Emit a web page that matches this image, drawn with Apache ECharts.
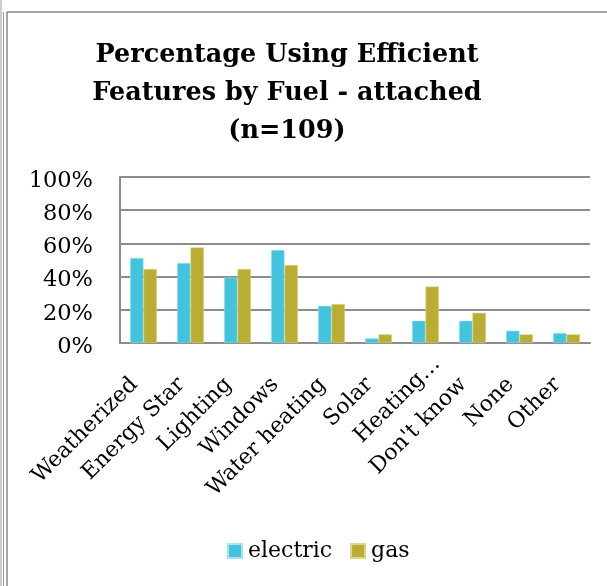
<!DOCTYPE html>
<html>
<head>
<meta charset="utf-8">
<script src="https://cdn.jsdelivr.net/npm/echarts@6/dist/echarts.min.js"></script>
<style>
  html, body { margin: 0; padding: 0; background: #fff; }
  #chart { width: 607px; height: 586px; }
</style>
</head>
<body>
<div id="chart"></div>
<script>
// Share of households using each efficiency feature, by heating fuel (percent)
const categories = ['Weatherized', 'Energy Star', 'Lighting', 'Windows', 'Water heating',
  'Solar', 'Heating…', "Don't know", 'None', 'Other'];
const electric = [51.2, 48.2, 39.4, 56.0, 22.4, 2.8, 13.4, 13.4, 7.4, 6.0];
const gas = [44.6, 57.6, 44.6, 47.0, 23.4, 5.2, 34.0, 18.2, 5.2, 5.2];
const yTicks = [0, 20, 40, 60, 80, 100];

const serif = "'DejaVu Serif', 'Liberation Serif', serif";
const chart = echarts.init(document.getElementById('chart'));

// the truncated label sits further along its diagonal than the others
const categoryItems = categories.map(name => name === 'Heating…'
  ? { value: name, textStyle: { padding: [0, -16, 0, 0] } }
  : name);

chart.setOption({
  animation: false,
  backgroundColor: '#ffffff',
  title: {
    text: 'Percentage Using Efficient\nFeatures by Fuel - attached\n(n=109)',
    left: 282,
    top: 31,
    textAlign: 'center',
    textStyle: {
      fontFamily: serif,
      fontWeight: 'bold',
      fontSize: 25.5,
      lineHeight: 38,
      color: '#000'
    }
  },
  legend: {
    data: ['electric', 'gas'],
    left: 222,
    top: 535,
    itemWidth: 14,
    itemHeight: 14,
    itemGap: 18,
    icon: 'rect',
    textStyle: { fontFamily: serif, fontSize: 22, color: '#000', padding: [0, 0, 0, 1] }
  },
  grid: { left: 120, right: 17, top: 177, bottom: 243, containLabel: false },
  xAxis: {
    type: 'category',
    data: categoryItems,
    axisLine: { show: true, lineStyle: { color: '#8c8c8c', width: 2 } },
    axisTick: { show: false },
    axisLabel: {
      rotate: 45,
      interval: 0,
      margin: 29,
      padding: [0, 13, 0, 0],
      fontFamily: serif,
      fontSize: 22,
      color: '#000'
    }
  },
  yAxis: {
    type: 'value',
    min: 0,
    max: 100,
    interval: 20,
    axisLine: { show: true, lineStyle: { color: '#8c8c8c', width: 2 } },
    axisTick: { show: false },
    splitLine: { lineStyle: { color: '#8c8c8c', width: 2 } },
    axisLabel: {
      margin: 27,
      verticalAlign: 'top',
      lineHeight: 8,
      fontFamily: serif,
      fontSize: 22.5,
      color: '#000',
      formatter: v => yTicks.includes(v) ? v + '%' : ''
    }
  },
  series: [
    {
      name: 'electric',
      type: 'bar',
      data: electric,
      barGap: '0%',
      barCategoryGap: '43%',
      itemStyle: { color: '#43c4de', borderColor: '#a9e3ef', borderWidth: 0.5 }
    },
    {
      name: 'gas',
      type: 'bar',
      data: gas,
      itemStyle: { color: '#baae32', borderColor: '#ddd68f', borderWidth: 0.5 }
    }
  ],
  graphic: [
    { type: 'line', shape: { x1: 1, y1: 0, x2: 1, y2: 586 }, style: { stroke: '#999', lineWidth: 1 } },
    { type: 'line', shape: { x1: 3.5, y1: 12, x2: 3.5, y2: 586 }, style: { stroke: '#999', lineWidth: 1 } },
    { type: 'line', shape: { x1: 7, y1: 12, x2: 7, y2: 586 }, style: { stroke: '#888', lineWidth: 1.5 } },
    { type: 'line', shape: { x1: 7, y1: 12, x2: 607, y2: 12 }, style: { stroke: '#888', lineWidth: 1.5 } }
  ]
});
</script>
</body>
</html>
